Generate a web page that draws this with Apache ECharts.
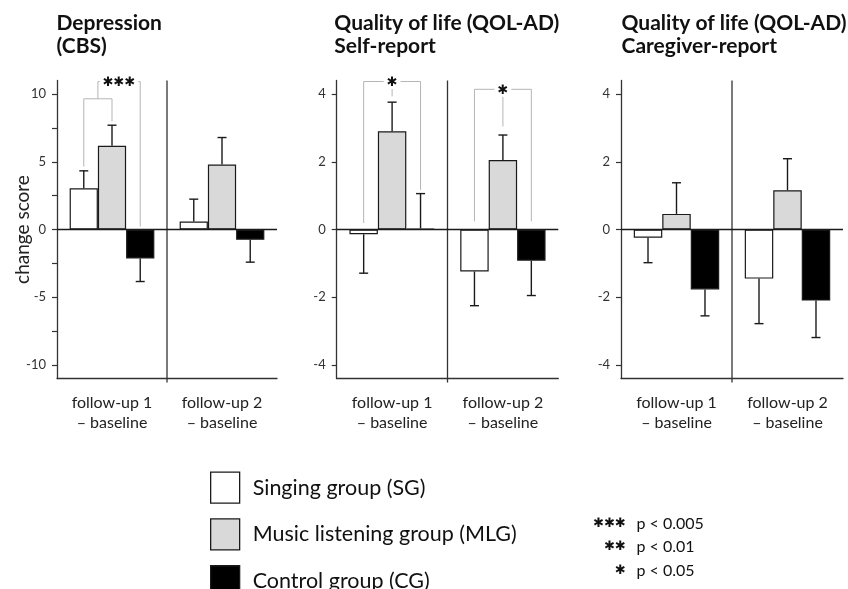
<!DOCTYPE html>
<html><head><meta charset="utf-8">
<script src="https://cdn.jsdelivr.net/npm/echarts@6/dist/echarts.min.js"></script>
<style>html,body{margin:0;padding:0;background:#fff}#chart{width:848px;height:589px}</style>
</head><body><div id="chart"></div>
<script>
// ---------- data ----------
const categories = ['follow-up 1\n– baseline', 'follow-up 2\n– baseline'];
const groupNames = ['Singing group (SG)', 'Music listening group (MLG)', 'Control group (CG)'];
const panelTitles = ['Depression\n(CBS)', 'Quality of life (QOL-AD)\nSelf-report', 'Quality of life (QOL-AD)\nCaregiver-report'];
const yAxisName = 'change score';

// Depression (CBS)
const cbsSG = [3.05, 0.59];
const cbsMLG = [6.18, 4.80];
const cbsCG = [-2.14, -0.76];
const cbsSGErr = [1.28, 1.65];
const cbsMLGErr = [1.52, 1.99];
const cbsCGErr = [1.70, 1.65];

// QOL-AD self-report
const selfSG = [-0.14, -1.24];
const selfMLG = [2.90, 2.05];
const selfCG = [0.03, -0.92];
const selfSGErr = [1.15, 1.01];
const selfMLGErr = [0.86, 0.74];
const selfCGErr = [1.03, 1.03];

// QOL-AD caregiver-report
const careSG = [-0.24, -1.45];
const careMLG = [0.46, 1.16];
const careCG = [-1.77, -2.10];
const careSGErr = [0.74, 1.33];
const careMLGErr = [0.92, 0.93];
const careCGErr = [0.78, 1.09];

// axis ranges and ticks
const cbsRange = [-11, 11];
const qolRange = [-4.4, 4.4];
const cbsTicks = [-10, -7.5, -5, -2.5, 0, 2.5, 5, 7.5, 10];
const cbsTickLabels = [-10, -5, 0, 5, 10];
const qolTicks = [-4, -2, 0, 2, 4];
const qolTickLabels = [-4, -2, 0, 2, 4];

// significance brackets (panel, category, bar slots, y-level and end heights in data units)
const sigPanel = [0, 0, 1, 1];
const sigCategory = [0, 0, 0, 1];
const sigFromSlot = [0, 0.5, 0, 0];
const sigToSlot = [1, 2, 2, 2];
const sigLevel = [9.65, 10.92, 4.37, 4.14];
const sigFromEnd = [4.65, 9.65, 0.19, 0.24];
const sigToEnd = [7.97, 0.22, 1.17, 0.24];
const sigStubTop = [null, null, 4.18, 3.98];
const sigStubBottom = [null, null, 3.93, 3.04];
const sigStars = ['', '✱✱✱', '✱', '✱'];

const pStars = ['✱✱✱', '✱✱', '✱'];
const pTexts = ['p < 0.005', 'p < 0.01', 'p < 0.05'];

// ---------- layout / style ----------
const FONT = 'Lato';
const STAR_FONT = 'DejaVu Sans';
const groupColors = ['#ffffff', '#d9d9d9', '#000000'];
const INK = '#1a1a1a';
const CAT_GAP = 0.23;
const grids = [
  {left: 57, top: 80.5, width: 220, height: 298},
  {left: 336.7, top: 80.5, width: 221.6, height: 298},
  {left: 621, top: 80.5, width: 222, height: 298}
];
const titleLeft = [51.5, 329.3, 616.5];

const panelValues = [[cbsSG, cbsMLG, cbsCG], [selfSG, selfMLG, selfCG], [careSG, careMLG, careCG]];
const panelErrs = [[cbsSGErr, cbsMLGErr, cbsCGErr], [selfSGErr, selfMLGErr, selfCGErr], [careSGErr, careMLGErr, careCGErr]];
const panelRanges = [cbsRange, qolRange, qolRange];
const panelTicks = [cbsTicks, qolTicks, qolTicks];
const panelTickLabels = [cbsTickLabels, qolTickLabels, qolTickLabels];

function barWidth(api) {
  return api.size([1, 0])[0] * (1 - CAT_GAP) / 3;
}

const xAxes = [], yAxes = [], series = [], titles = [];
for (let p = 0; p < 3; p++) {
  titles.push({
    text: panelTitles[p], left: titleLeft[p], top: 7,
    textStyle: {fontFamily: FONT, fontSize: 21, fontWeight: 'bold', color: '#111', lineHeight: 23}
  });
  xAxes.push({
    type: 'category', gridIndex: p, data: categories,
    axisLine: {onZero: false, lineStyle: {color: '#333', width: 1.3}},
    axisTick: {alignWithLabel: true, length: 5, lineStyle: {color: '#333', width: 1.2}},
    axisLabel: {fontFamily: FONT, fontSize: 16, color: '#222', lineHeight: 20, margin: 14, interval: 0},
    splitLine: {show: false}
  });
  yAxes.push({
    type: 'value', gridIndex: p, min: panelRanges[p][0], max: panelRanges[p][1],
    name: p === 0 ? yAxisName : '', nameLocation: 'middle', nameGap: 25, nameMoveOverlap: false,
    nameTextStyle: {fontFamily: FONT, fontSize: 19, color: '#222'},
    axisLine: {show: true, onZero: false, lineStyle: {color: '#333', width: 1.3}},
    axisTick: {show: true, length: 5, customValues: panelTicks[p], lineStyle: {color: '#333', width: 1.2}},
    axisLabel: {fontFamily: FONT, fontSize: 13, color: '#333', margin: 11, customValues: panelTickLabels[p]},
    splitLine: {show: false}
  });
  for (let s = 0; s < 3; s++) {
    const bar = {
      type: 'bar', name: groupNames[s], xAxisIndex: p, yAxisIndex: p,
      data: panelValues[p][s], barGap: '0%', barCategoryGap: (CAT_GAP * 100) + '%',
      itemStyle: {color: groupColors[s], borderColor: INK, borderWidth: 1.2},
      silent: true, animation: false
    };
    if (s === 0) {
      bar.markLine = {
        silent: true, symbol: 'none', label: {show: false},
        lineStyle: {color: INK, width: 1.3, type: 'solid'},
        data: [{yAxis: 0}], animation: false
      };
    }
    series.push(bar);
  }
  // error bars
  const errData = [];
  for (let s = 0; s < 3; s++) {
    for (let c = 0; c < categories.length; c++) {
      errData.push([c, panelValues[p][s][c], panelErrs[p][s][c], s]);
    }
  }
  series.push({
    type: 'custom', xAxisIndex: p, yAxisIndex: p, data: errData, encode: {x: 0, y: 1},
    silent: true, animation: false, z: 5,
    renderItem: function (params, api) {
      const c = api.value(0), v = api.value(1), e = api.value(2), s = api.value(3);
      const bw = barWidth(api);
      const base = api.coord([c, v]);
      const x = base[0] + (s - 1) * bw;
      const dir = v >= 0 ? 1 : -1;
      const yEnd = api.coord([c, v + dir * e])[1];
      const st = {stroke: INK, lineWidth: 1.4};
      return {type: 'group', children: [
        {type: 'line', shape: {x1: x, y1: base[1], x2: x, y2: yEnd}, style: st},
        {type: 'line', shape: {x1: x - 4.5, y1: yEnd, x2: x + 4.5, y2: yEnd}, style: st}
      ]};
    }
  });
  // divider between the two time points
  series.push({
    type: 'custom', xAxisIndex: p, yAxisIndex: p, data: [[0, 0]], encode: {x: 0, y: 1},
    silent: true, animation: false, z: 3,
    renderItem: function (params, api) {
      const band = api.size([1, 0])[0];
      const x = api.coord([0, 0])[0] + band / 2;
      const yTop = api.coord([0, panelRanges[p][1]])[1];
      const yBot = api.coord([0, panelRanges[p][0]])[1] + 4;
      return {type: 'line', shape: {x1: x, y1: yTop, x2: x, y2: yBot}, style: {stroke: '#333', lineWidth: 1.3}};
    }
  });
  // significance brackets
  const idx = [];
  for (let k = 0; k < sigPanel.length; k++) if (sigPanel[k] === p) idx.push(k);
  if (idx.length) {
    series.push({
      type: 'custom', xAxisIndex: p, yAxisIndex: p,
      data: idx.map(k => [sigCategory[k], sigLevel[k], k]), encode: {x: 0, y: 1},
      silent: true, animation: false, z: 6,
      renderItem: function (params, api) {
        const k = api.value(2);
        const c = sigCategory[k];
        const bw = barWidth(api);
        const cen = api.coord([c, sigLevel[k]]);
        const yL = cen[1];
        const x1 = cen[0] + (sigFromSlot[k] - 1) * bw;
        const x2 = cen[0] + (sigToSlot[k] - 1) * bw;
        const y1 = api.coord([c, sigFromEnd[k]])[1];
        const y2 = api.coord([c, sigToEnd[k]])[1];
        const st = {stroke: '#b5b5b5', lineWidth: 1, fill: null};
        const ch = [{type: 'polyline', shape: {points: [[x1, y1], [x1, yL], [x2, yL], [x2, y2]]}, style: st}];
        const xm = (x1 + x2) / 2;
        if (sigStubTop[k] !== null) {
          ch.push({type: 'line', shape: {x1: xm, y1: api.coord([c, sigStubTop[k]])[1], x2: xm, y2: api.coord([c, sigStubBottom[k]])[1]}, style: st});
        }
        if (sigStars[k]) {
          ch.push({type: 'text', x: xm, y: yL + 1, style: {
            text: sigStars[k], font: '13px "' + STAR_FONT + '"', fill: '#111',
            align: 'center', verticalAlign: 'middle', backgroundColor: '#fff', padding: [0, 3]
          }});
        }
        return {type: 'group', children: ch};
      }
    });
  }
}

// p-value key
const graphics = [];
for (let i = 0; i < pStars.length; i++) {
  const y = 523.5 + 23.5 * i;
  graphics.push({type: 'text', x: 626, y: y, silent: true,
    style: {text: pStars[i], font: '13px "' + STAR_FONT + '"', fill: '#111', align: 'right', verticalAlign: 'middle'}});
  graphics.push({type: 'text', x: 636.5, y: y, silent: true,
    style: {text: pTexts[i], font: '16px ' + FONT, fill: '#111', align: 'left', verticalAlign: 'middle'}});
}

const chart = echarts.init(document.getElementById('chart'), null, {renderer: 'canvas'});
chart.setOption({
  animation: false,
  backgroundColor: '#fff',
  title: titles,
  grid: grids,
  xAxis: xAxes,
  yAxis: yAxes,
  legend: {
    data: groupNames, orient: 'vertical', left: 210, top: 471.5, height: 160, padding: 0,
    itemWidth: 29, itemHeight: 31, itemGap: 14.5, icon: 'rect',
    selectedMode: false,
    itemStyle: {borderColor: INK, borderWidth: 1.3},
    textStyle: {fontFamily: FONT, fontSize: 21.5, color: '#111', padding: [0, 0, 0, 8]}
  },
  graphic: graphics,
  series: series
});
</script></body></html>
